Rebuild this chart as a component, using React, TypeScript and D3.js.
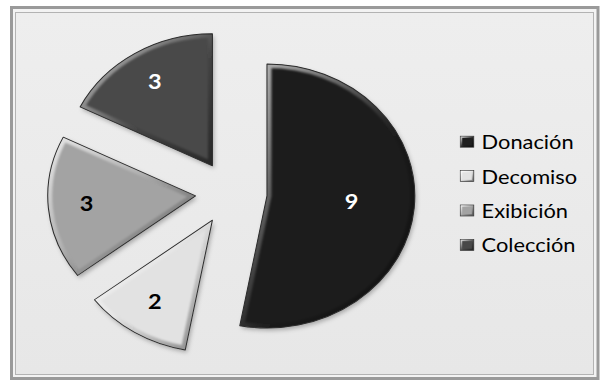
import React from "react";
import * as d3 from "d3";

const categories = ["Donación", "Decomiso", "Exibición", "Colección"];
const values = [9, 2, 3, 3];
const colors = ["#1f1f1f", "#e2e2e2", "#a3a3a3", "#484848"];
const labelColors = ["#ffffff", "#000000", "#000000", "#ffffff"];

const W = 602;
const H = 381;
const SX = 1.12; // horizontal stretch of the whole plot
const CX = 206.5;
const CY = 193;
const R = 132;
const EXPLODE = 32;
const LEGEND_X = 411;
const LEGEND_TOP = 141.7;
const LEGEND_STEP = 34.4;

export default function App() {
  const pie = d3.pie<number>().sort(null).value((d) => d);
  const arcs = pie(values);
  const arc = d3.arc<d3.PieArcDatum<number>>().innerRadius(0).outerRadius(R);

  return (
    <svg
      width={W}
      height={H}
      style={{ position: "absolute", left: 0, top: 0, background: "#ffffff" }}
      fontFamily="Lato, 'Open Sans', sans-serif"
    >
      <defs>
        <linearGradient id="bg" x1="0" y1="0" x2="0" y2="1">
          <stop offset="0" stopColor="#eeeeee" />
          <stop offset="1" stopColor="#e7e7e7" />
        </linearGradient>
        <linearGradient id="bevel" x1="0" y1="0" x2="1" y2="1">
          <stop offset="0" stopColor="#ffffff" stopOpacity={0.75} />
          <stop offset="0.45" stopColor="#ffffff" stopOpacity={0.15} />
          <stop offset="0.6" stopColor="#000000" stopOpacity={0.1} />
          <stop offset="1" stopColor="#000000" stopOpacity={0.45} />
        </linearGradient>
        <filter id="shadow" x="-20%" y="-20%" width="140%" height="140%">
          <feDropShadow dx="1.5" dy="2.5" stdDeviation="2" floodColor="#000" floodOpacity="0.28" />
        </filter>
        <filter id="soft" x="-5%" y="-5%" width="110%" height="110%">
          <feGaussianBlur stdDeviation="1" />
        </filter>
        {arcs.map((a, i) => (
          <clipPath id={`clip${i}`} key={i}>
            <path d={arc(a) || ""} />
          </clipPath>
        ))}
      </defs>

      <rect x={11.5} y={7.5} width={586.5} height={371} fill="#f3f3f3" stroke="#9a9a9a" strokeWidth={3} />
      <rect x={15.5} y={12.5} width={578} height={362} fill="url(#bg)" stroke="#b3b3b3" strokeWidth={1} />

      <g transform={`scale(${SX},1)`}>
        <g transform={`translate(${CX},${CY})`}>
          {arcs.map((a, i) => {
            const mid = (a.startAngle + a.endAngle) / 2;
            const ox = EXPLODE * Math.sin(mid);
            const oy = -EXPLODE * Math.cos(mid);
            const d = arc(a) || "";
            return (
              <g key={i} transform={`translate(${ox},${oy})`}>
                <path d={d} fill={colors[i]} filter="url(#shadow)" />
                <g clipPath={`url(#clip${i})`}>
                  <path d={d} fill="none" stroke="url(#bevel)" strokeWidth={8} filter="url(#soft)" />
                </g>
                <path d={d} fill="none" stroke="#2b2b2b" strokeWidth={0.9} strokeLinejoin="round" />
              </g>
            );
          })}
          {arcs.map((a, i) => {
            const mid = (a.startAngle + a.endAngle) / 2;
            const f = a.endAngle - a.startAngle > Math.PI ? 0.575 : 0.74;
            const dist = EXPLODE + f * R;
            return (
              <text
                key={i}
                x={dist * Math.sin(mid)}
                y={-dist * Math.cos(mid) - 2}
                textAnchor="middle"
                dominantBaseline="central"
                fontSize={21}
                fontWeight="bold"
                fill={labelColors[i]}
              >
                {values[i]}
              </text>
            );
          })}
        </g>

        <g>
          {categories.map((c, i) => {
            const y = LEGEND_TOP + i * LEGEND_STEP;
            return (
              <g key={c} transform={`translate(${LEGEND_X},${y})`}>
                <rect x={0} y={-5.5} width={12} height={11} fill={colors[i]} stroke="#3a3a3a" strokeWidth={0.7} />
                <rect x={1} y={-4.5} width={10} height={9} fill="none" stroke="url(#bevel)" strokeWidth={1.5} />
                <text x={19} y={0} dominantBaseline="central" fontSize={19.5} fill="#000">
                  {c}
                </text>
              </g>
            );
          })}
        </g>
      </g>
    </svg>
  );
}
